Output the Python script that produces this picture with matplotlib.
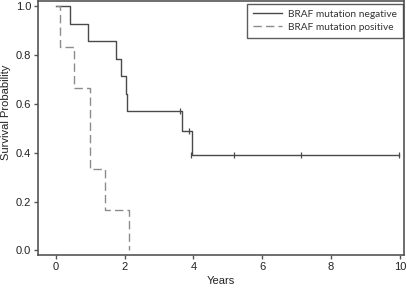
import matplotlib
matplotlib.use("Agg")
import matplotlib.pyplot as plt
import numpy as np

# Kaplan-Meier estimates
neg_times = [0.0, 0.42, 0.92, 1.74, 1.88, 2.03, 2.08, 3.68, 3.95, 9.98]
neg_surv = [1.0, 0.929, 0.857, 0.786, 0.714, 0.643, 0.571, 0.490, 0.392, 0.392]
neg_cens_t = [3.60, 3.88, 3.93, 5.18, 7.12, 9.98]
neg_cens_s = [0.571, 0.490, 0.392, 0.392, 0.392, 0.392]

pos_times = [0.0, 0.12, 0.52, 0.98, 1.42, 2.12]
pos_surv = [1.0, 0.833, 0.667, 0.333, 0.167, 0.0]

x_ticks = [0, 2, 4, 6, 8, 10]
y_ticks = [0.0, 0.2, 0.4, 0.6, 0.8, 1.0]

plt.rcParams['font.family'] = ['Liberation Sans', 'DejaVu Sans']

fig = plt.figure(figsize=(4.07, 2.89), dpi=100)
ax = fig.add_axes([0.0934, 0.1176, 0.8992, 0.8804])

solid_col = '#4a4a4a'
dash_col = '#8c8c8c'

ax.step(neg_times, neg_surv, where='post', color=solid_col, lw=1.0,
        label='BRAF mutation negative')
ax.plot(neg_cens_t, neg_cens_s, ls='none', marker='|', ms=5, mew=0.9, color=solid_col)
ax.step(pos_times, pos_surv, where='post', color=dash_col, lw=1.0,
        dashes=(6, 3), label='BRAF mutation positive')

ax.set_xlim(-0.52, 10.12)
ax.set_ylim(-0.019, 1.024)
ax.set_xticks(x_ticks)
ax.set_xticklabels([str(t) for t in x_ticks])
ax.set_yticks(y_ticks)
ax.set_yticklabels([f"{t:.1f}" for t in y_ticks])
ax.tick_params(labelsize=8, length=3, width=1, color='#555555', pad=2, labelcolor='#222222')

for s in ax.spines.values():
    s.set_color('#555555')
    s.set_linewidth(1.2)

ax.set_xlabel('Years', fontsize=8, labelpad=3, color='#222222')
ax.set_ylabel('Survival Probability', fontsize=8, color='#222222')
ax.yaxis.set_label_coords(-0.073, 0.56)

leg = ax.legend(loc='upper right', bbox_to_anchor=(0.997, 0.988),
                frameon=True, fancybox=False, edgecolor='#333333',
                handlelength=2.8, handletextpad=0.6, borderpad=0.6,
                labelspacing=0.4, borderaxespad=0.0,
                prop={'family': ['Lato', 'DejaVu Sans'], 'size': 7.3})
leg.get_frame().set_linewidth(1.0)
for t in leg.get_texts():
    t.set_color('#333333')

fig.savefig('out.png', dpi=100)
